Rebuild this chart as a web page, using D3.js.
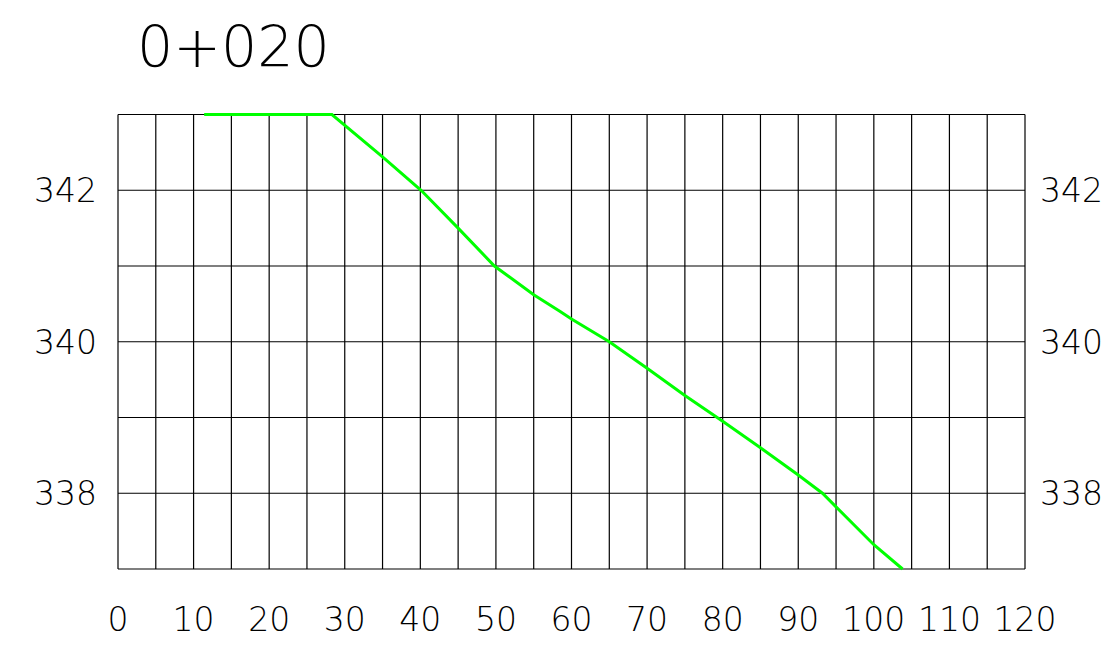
<!DOCTYPE html>
<html><head><meta charset="utf-8">
<script src="https://cdn.jsdelivr.net/npm/d3@7"></script>
<style>body{margin:0;background:#fff;} text{font-family:"DejaVu Sans",sans-serif;font-weight:200;}</style>
</head><body>
<svg id="c" width="1120" height="646"></svg>
<script>
const title = "0+020";
const xTicks = [0,10,20,30,40,50,60,70,80,90,100,110,120];
const xGrid = d3.range(0,121,5);
const yTicks = [338,340,342];
const yGrid = [337,338,339,340,341,342,343];
const offsets = [11.4,28.3,35,40.1,45,49.8,55,58.5,60,65,70,75,80,85,90,93.2,95,100,103.8];
const elevs   = [343,343,342.44,342,341.5,341,340.62,340.4,340.3,340,339.65,339.29,338.95,338.6,338.24,338,337.82,337.32,337];

const svg = d3.select("#c");
const x = d3.scaleLinear().domain([0,120]).range([118,1025]);
const y = d3.scaleLinear().domain([337,343]).range([569,114.5]);

svg.append("g").selectAll("line").data(xGrid).join("line")
  .attr("x1",d=>x(d)).attr("x2",d=>x(d)).attr("y1",y(343)).attr("y2",y(337))
  .attr("stroke","#000").attr("stroke-width",1.2);
svg.append("g").selectAll("line").data(yGrid).join("line")
  .attr("y1",d=>y(d)).attr("y2",d=>y(d)).attr("x1",x(0)).attr("x2",x(120))
  .attr("stroke","#000").attr("stroke-width",1.2);

const line = d3.line().x((d,i)=>x(offsets[i])).y((d,i)=>y(elevs[i]));
svg.append("path").datum(offsets).attr("d",line)
  .attr("fill","none").attr("stroke","#00ff00").attr("stroke-width",3);

svg.append("g").selectAll("text").data(xTicks).join("text")
  .attr("x",d=>x(d)).attr("y",631).attr("text-anchor","middle")
  .attr("font-size",33).text(d=>d);
svg.append("g").selectAll("text").data(yTicks).join("text")
  .attr("x",97).attr("y",d=>y(d)+12).attr("text-anchor","end")
  .attr("font-size",33).text(d=>d);
svg.append("g").selectAll("text").data(yTicks).join("text")
  .attr("x",1040).attr("y",d=>y(d)+12).attr("text-anchor","start")
  .attr("font-size",33).text(d=>d);

svg.append("text").attr("x",137).attr("y",67).attr("font-size",57).text(title);
</script>
</body></html>
